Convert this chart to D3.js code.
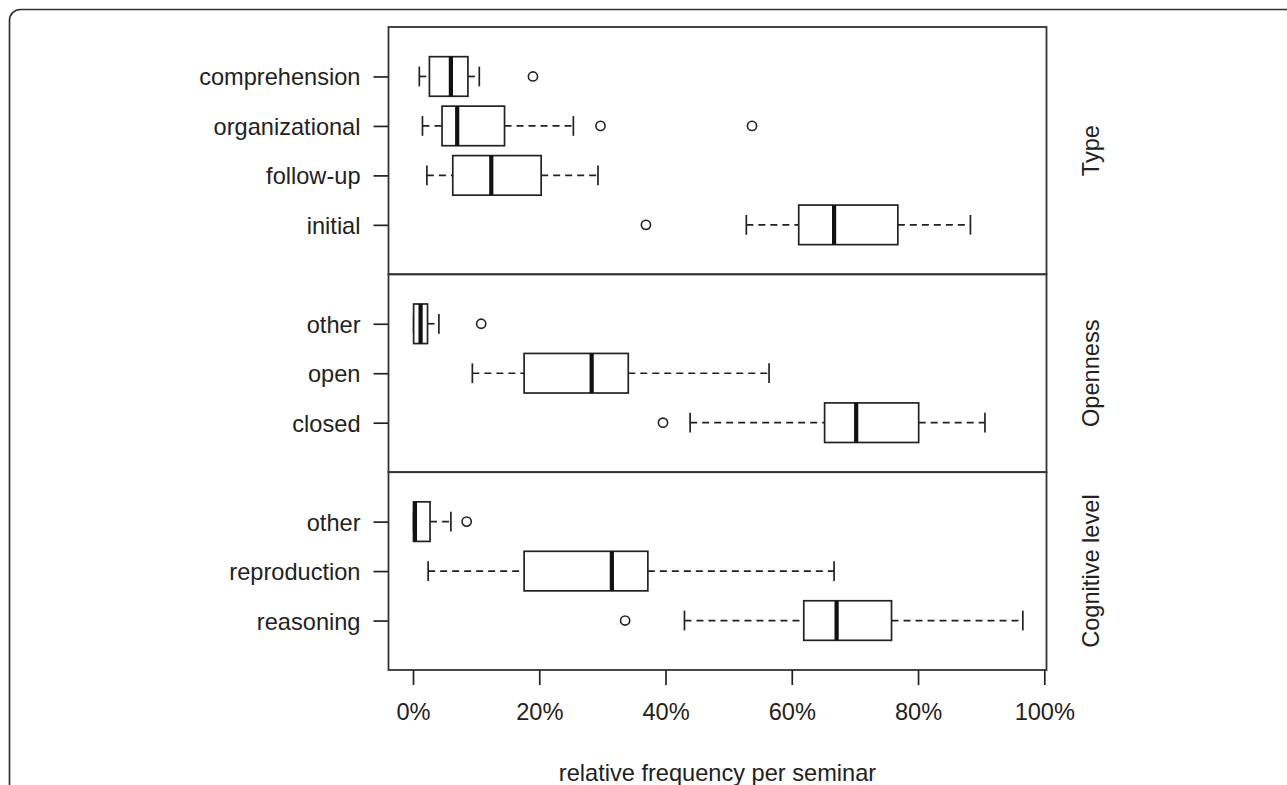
<!DOCTYPE html>
<html>
<head>
<meta charset="utf-8">
<script src="https://cdn.jsdelivr.net/npm/d3@7"></script>
<style>
  body { margin: 0; background: #fff; }
  text { font-family: "Liberation Sans", Arial, sans-serif; fill: #222; }
</style>
</head>
<body>
<div id="chart"></div>
<script>
// panel names (right side strip labels)
const panelNames = ["Type", "Openness", "Cognitive level"];

// categories per panel, top to bottom
const typeCats = ["comprehension", "organizational", "follow-up", "initial"];
const opennessCats = ["other", "open", "closed"];
const cognitiveCats = ["other", "reproduction", "reasoning"];

// five number summaries in % : [lower whisker, q1, median, q3, upper whisker]
const typeStats = [
  [1.0, 2.6, 6.0, 8.7, 10.5],
  [1.5, 4.6, 7.0, 14.5, 25.4],
  [2.2, 6.3, 12.4, 20.3, 29.3],
  [52.8, 61.1, 66.7, 76.8, 88.3]
];
const opennessStats = [
  [0.1, 0.1, 1.2, 2.3, 4.1],
  [9.4, 17.6, 28.3, 34.1, 56.4],
  [43.9, 65.2, 70.2, 80.1, 90.6]
];
const cognitiveStats = [
  [0.1, 0.1, 0.3, 2.7, 6.0],
  [2.4, 17.6, 31.5, 37.2, 66.7],
  [43.0, 61.9, 67.1, 75.8, 96.6]
];

// outliers in %
const typeOutliers = [[19.0], [29.7, 53.7], [], [36.9]];
const opennessOutliers = [[10.8], [], [39.6]];
const cognitiveOutliers = [[8.5], [], [33.6]];

// x axis ticks
const xTicks = [0, 20, 40, 60, 80, 100];

const width = 1287, height = 785;
const plot = {left: 388.5, right: 1046.5, top: 27, bottom: 670};
const fontSize = '23.6px';

const svg = d3.select('#chart')
  .append('svg')
  .attr('width', width)
  .attr('height', height);

// outer frame (rounded, running off the right and bottom edges)
svg.append('rect')
  .attr('x', 9.5)
  .attr('y', 9.5)
  .attr('width', 1300)
  .attr('height', 820)
  .attr('rx', 11)
  .style('fill', 'none')
  .style('stroke', '#333')
  .style('stroke-width', 1.7);

const x = d3.scaleLinear()
  .domain([0, 100])
  .range([413, 1044.3]);

const panels = [
  {name: panelNames[0], cats: typeCats, stats: typeStats, out: typeOutliers},
  {name: panelNames[1], cats: opennessCats, stats: opennessStats, out: opennessOutliers},
  {name: panelNames[2], cats: cognitiveCats, stats: cognitiveStats, out: cognitiveOutliers}
];

// each panel gets (n + 1) equal row units
const totalUnits = d3.sum(panels, p => p.cats.length + 1);
const unit = (plot.bottom - plot.top) / totalUnits;
const boxH = unit * 0.8;

let yTop = plot.top;
panels.forEach(function(p, pi) {
  const h = unit * (p.cats.length + 1);
  const y = d3.scalePoint()
    .domain(p.cats)
    .range([yTop, yTop + h])
    .padding(1);

  const g = svg.append('g');

  // left axis with category labels
  const ax = g.append('g')
    .attr('transform', `translate(${plot.left}, 0)`)
    .call(d3.axisLeft(y).tickSize(15).tickPadding(13));
  ax.select('.domain').remove();
  ax.selectAll('.tick line').style('stroke', '#222').style('stroke-width', 1.7);
  ax.selectAll('.tick text')
    .style('font-size', fontSize)
    .style('fill', '#222')
    .attr('dy', '0.36em');

  const rows = g.selectAll('.row')
    .data(p.stats)
    .enter()
    .append('g')
    .attr('class', 'row')
    .attr('transform', (d, i) => `translate(0, ${y(p.cats[i])})`);

  // dashed whiskers
  rows.append('line')
    .attr('x1', d => x(d[0]))
    .attr('x2', d => x(d[1]))
    .style('stroke', '#222')
    .style('stroke-width', 1.7)
    .style('stroke-dasharray', '7,5');
  rows.append('line')
    .attr('x1', d => x(d[3]))
    .attr('x2', d => x(d[4]))
    .style('stroke', '#222')
    .style('stroke-width', 1.7)
    .style('stroke-dasharray', '7,5');

  // whisker caps
  rows.selectAll('.cap')
    .data(d => [d[0], d[4]])
    .enter()
    .append('line')
    .attr('class', 'cap')
    .attr('x1', v => x(v))
    .attr('x2', v => x(v))
    .attr('y1', -boxH / 4)
    .attr('y2', boxH / 4)
    .style('stroke', '#222')
    .style('stroke-width', 1.7);

  // boxes
  rows.append('rect')
    .attr('x', d => x(d[1]))
    .attr('y', -boxH / 2)
    .attr('width', d => x(d[3]) - x(d[1]))
    .attr('height', boxH)
    .style('fill', '#fff')
    .style('stroke', '#222')
    .style('stroke-width', 1.7);

  // medians
  rows.append('line')
    .attr('x1', d => x(d[2]))
    .attr('x2', d => x(d[2]))
    .attr('y1', -boxH / 2)
    .attr('y2', boxH / 2)
    .style('stroke', '#111')
    .style('stroke-width', 4.2);

  // outliers
  rows.selectAll('.outlier')
    .data((d, i) => p.out[i])
    .enter()
    .append('circle')
    .attr('class', 'outlier')
    .attr('cx', v => x(v))
    .attr('cy', 0)
    .attr('r', 4.6)
    .style('fill', 'none')
    .style('stroke', '#222')
    .style('stroke-width', 1.6);

  // panel border
  g.append('rect')
    .attr('x', plot.left)
    .attr('y', yTop)
    .attr('width', plot.right - plot.left)
    .attr('height', h)
    .style('fill', 'none')
    .style('stroke', '#333')
    .style('stroke-width', 1.8);

  // strip label on the right
  svg.append('text')
    .attr('transform', `translate(1099, ${yTop + h / 2}) rotate(-90)`)
    .attr('text-anchor', 'middle')
    .style('font-size', fontSize)
    .text(p.name);

  yTop += h;
});

// bottom axis
const xAxis = svg.append('g')
  .attr('transform', `translate(0, ${plot.bottom})`)
  .call(d3.axisBottom(x).tickValues(xTicks).tickFormat(d => d + '%').tickSize(15).tickSizeOuter(0).tickPadding(18));
xAxis.select('.domain').remove();
xAxis.selectAll('.tick line').style('stroke', '#222').style('stroke-width', 1.7);
xAxis.selectAll('.tick text')
  .style('font-size', fontSize)
  .style('fill', '#222');

// axis title
svg.append('text')
  .attr('x', (plot.left + plot.right) / 2)
  .attr('y', 781)
  .attr('text-anchor', 'middle')
  .style('font-size', fontSize)
  .text('relative frequency per seminar');
</script>
</body>
</html>
